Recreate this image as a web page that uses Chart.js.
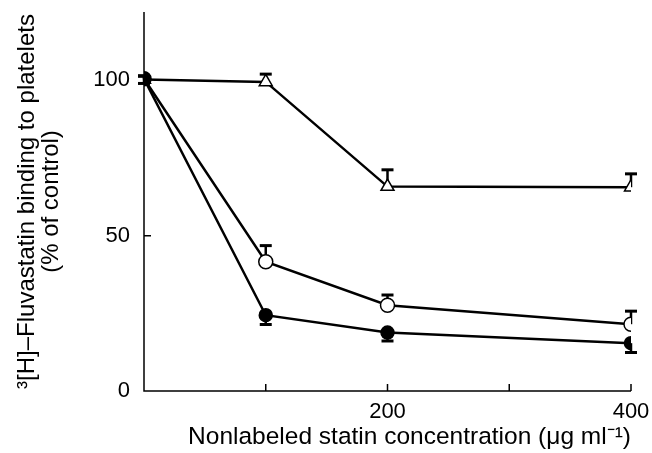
<!DOCTYPE html>
<html>
<head>
<meta charset="utf-8">
<script src="https://cdn.jsdelivr.net/npm/chart.js@4"></script>
<style>
  html, body { margin: 0; padding: 0; background: #fff; }
  #wrap { width: 652px; height: 453px; }
</style>
</head>
<body>
<div id="wrap"><canvas id="chart" width="652" height="453"></canvas></div>
<script>
var concentrations = [0, 100, 200, 400];
var filledValues = [100.5, 24.4, 18.8, 15.4];
var filledErrors = [1.5, 3.0, 2.7, 3.0];
var openValues = [100.5, 41.6, 27.6, 21.5];
var openErrors = [1.0, 5.2, 3.3, 4.2];
var triangleValues = [100.3, 99.5, 65.8, 65.6];
var triangleErrors = [1.0, 2.5, 5.4, 4.3];
var xTicks = [0, 100, 200, 300, 400];
var xLabels = { 200: '200', 400: '400' };
var yTicks = [0, 50, 100];

function points(values) {
    return concentrations.map(function (c, i) { return { x: c, y: values[i] }; });
}

// error bars: filled go down, open/triangle go up
var errorBarPlugin = {
    id: 'errorBars',
    beforeDatasetsDraw: function (chart) {
        var ctx = chart.ctx;
        var xs = chart.scales.x, ys = chart.scales.y;
        ctx.save();
        ctx.strokeStyle = '#000';
        chart.data.datasets.forEach(function (ds) {
            ds.data.forEach(function (p, i) {
                var err = ds.errors[i];
                var px = xs.getPixelForValue(p.x);
                var py = ys.getPixelForValue(p.y);
                var ey = ys.getPixelForValue(p.y + ds.errorDir * err);
                ctx.lineWidth = 2.5;
                ctx.beginPath();
                ctx.moveTo(px, py);
                ctx.lineTo(px, ey);
                ctx.stroke();
                ctx.lineWidth = 3;
                ctx.beginPath();
                ctx.moveTo(px - 6, ey);
                ctx.lineTo(px + 6, ey);
                ctx.stroke();
            });
        });
        ctx.restore();
    }
};

// axis lines with inward ticks
var axesPlugin = {
    id: 'axesLines',
    afterDraw: function (chart) {
        var ctx = chart.ctx;
        var xs = chart.scales.x, ys = chart.scales.y;
        var left = xs.getPixelForValue(0);
        var bottom = ys.getPixelForValue(0);
        ctx.save();
        ctx.strokeStyle = '#000';
        ctx.lineWidth = 1.5;
        ctx.beginPath();
        ctx.moveTo(left, ys.top);
        ctx.lineTo(left, bottom);
        ctx.lineTo(xs.getPixelForValue(400), bottom);
        xTicks.forEach(function (t) {
            if (t === 0) return;
            var px = xs.getPixelForValue(t);
            ctx.moveTo(px, bottom);
            ctx.lineTo(px, bottom - 7);
        });
        yTicks.forEach(function (t) {
            if (t === 0) return;
            var py = ys.getPixelForValue(t);
            ctx.moveTo(left, py);
            ctx.lineTo(left + 7, py);
        });
        ctx.stroke();
        ctx.restore();
    }
};

new Chart(document.getElementById('chart'), {
    type: 'line',
    data: {
        datasets: [{
            label: 'filled',
            data: points(filledValues),
            errors: filledErrors,
            errorDir: -1,
            borderColor: '#000',
            backgroundColor: '#000',
            borderWidth: 2.5,
            pointStyle: 'circle',
            pointRadius: 6.5,
            pointBorderWidth: 1.5
        }, {
            label: 'open',
            data: points(openValues),
            errors: openErrors,
            errorDir: 1,
            borderColor: '#000',
            backgroundColor: '#fff',
            borderWidth: 2.5,
            pointStyle: 'circle',
            pointRadius: 7,
            pointBorderWidth: 1.5
        }, {
            label: 'triangle',
            data: points(triangleValues),
            errors: triangleErrors,
            errorDir: 1,
            borderColor: '#000',
            backgroundColor: '#fff',
            borderWidth: 2.5,
            pointStyle: 'triangle',
            pointRadius: 7.5,
            pointBorderWidth: 1.5
        }]
    },
    options: {
        responsive: false,
        animation: false,
        layout: { padding: { left: 0, right: 21, top: 12, bottom: 0 } },
        plugins: { legend: { display: false }, tooltip: { enabled: false } },
        scales: {
            x: {
                type: 'linear',
                min: 0,
                max: 400,
                grid: { display: false },
                border: { display: false },
                afterBuildTicks: function (scale) {
                    scale.ticks = xTicks.map(function (v) { return { value: v }; });
                },
                afterFit: function (scale) {
                    scale.height = 62;
                    scale.paddingLeft = 0;
                    scale.paddingRight = 0;
                },
                ticks: {
                    autoSkip: false,
                    maxRotation: 0,
                    padding: 0,
                    color: '#000',
                    font: { family: 'Liberation Sans, Arial, sans-serif', size: 22 },
                    callback: function (v) { return xLabels[v] || ''; }
                },
                title: {
                    display: true,
                    align: 'end',
                    text: 'Nonlabeled statin concentration (\u03bcg ml\u207b\u00b9)',
                    color: '#000',
                    font: { family: 'Liberation Sans, Arial, sans-serif', size: 24.5 },
                    padding: { top: 0, bottom: 1 }
                }
            },
            y: {
                min: 0,
                max: 122,
                grid: { display: false },
                border: { display: false },
                afterBuildTicks: function (scale) {
                    scale.ticks = yTicks.map(function (v) { return { value: v }; });
                },
                afterFit: function (scale) {
                    scale.width = 144;
                    scale.paddingTop = 0;
                    scale.paddingBottom = 0;
                },
                ticks: {
                    padding: 6,
                    color: '#000',
                    font: { family: 'Liberation Sans, Arial, sans-serif', size: 22 }
                },
                title: {
                    display: true,
                    text: ['\u00b3[H]\u2013Fluvastatin binding to platelets', '(% of control)'],
                    color: '#000',
                    font: { family: 'Liberation Sans, Arial, sans-serif', size: 24, lineHeight: 1.0 },
                    padding: { top: 15, bottom: 0 }
                }
            }
        }
    },
    plugins: [errorBarPlugin, axesPlugin]
});
</script>
</body>
</html>
